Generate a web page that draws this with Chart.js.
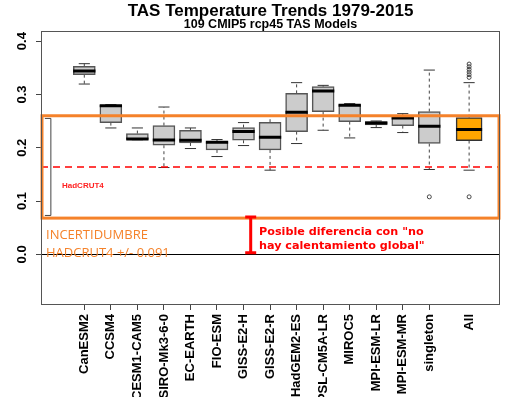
<!DOCTYPE html>
<html>
<head>
<meta charset="utf-8">
<script src="https://cdn.jsdelivr.net/npm/chart.js@4.4.1/dist/chart.umd.min.js"></script>
<style>
  html, body { margin: 0; padding: 0; background: #fff; overflow: hidden; }
</style>
</head>
<body>
<canvas id="chart" width="510" height="397"></canvas>
<script>
// data
const models = ['CanESM2', 'CCSM4', 'CESM1-CAM5', 'CSIRO-Mk3-6-0', 'EC-EARTH', 'FIO-ESM', 'GISS-E2-H',
  'GISS-E2-R', 'HadGEM2-ES', 'IPSL-CM5A-LR', 'MIROC5', 'MPI-ESM-LR', 'MPI-ESM-MR', 'singleton', 'All'];
const positions = [1, 2, 3, 4, 5, 6, 7, 8, 9, 10, 11, 12, 13, 14, 15.5];
const whiskerLow  = [0.3195, 0.2371, 0.2150, 0.1629, 0.1985, 0.1835, 0.2041, 0.1579, 0.2079, 0.2328, 0.2184, 0.2378, 0.2285, 0.1592, 0.1579];
const q1          = [0.3371, 0.2472, 0.2154, 0.2047, 0.2090, 0.1959, 0.2140, 0.1959, 0.2303, 0.2678, 0.2491, 0.2427, 0.2416, 0.2079, 0.2135];
const median      = [0.3438, 0.2790, 0.2165, 0.2146, 0.2140, 0.2103, 0.2303, 0.2197, 0.2665, 0.3064, 0.2796, 0.2464, 0.2558, 0.2403, 0.2341];
const q3          = [0.3526, 0.2800, 0.2266, 0.2416, 0.2328, 0.2116, 0.2378, 0.2478, 0.3020, 0.3146, 0.2809, 0.2491, 0.2600, 0.2678, 0.2566];
const whiskerHigh = [0.3577, 0.2809, 0.2371, 0.2764, 0.2371, 0.2154, 0.2472, 0.2600, 0.3221, 0.3170, 0.2828, 0.2502, 0.2640, 0.3457, 0.3221];
const outliers    = [[], [], [], [], [], [], [], [], [], [], [], [], [], [0.1079],
  [0.1079, 0.332, 0.337, 0.342, 0.347, 0.352, 0.357]];
const yTicks = [0, 0.1, 0.2, 0.3, 0.4];
const hadcrut = 0.164;
const uncertainty = 0.091;

const allIdx = models.length - 1;
const capHalf = 0.21;
const boxHalf = 0.42, allHalf = 0.49;

function segs(fn) {
  const out = [];
  positions.forEach((p, i) => { fn(p, i).forEach(pt => out.push(pt)); out.push({ x: p, y: null }); });
  return out;
}

const medianData = segs((p, i) => {
  const h = i === allIdx ? allHalf : boxHalf;
  return [{ x: p - h, y: median[i] }, { x: p + h, y: median[i] }];
});
const capData = segs((p, i) => [
  { x: p - capHalf, y: whiskerHigh[i] }, { x: p + capHalf, y: whiskerHigh[i] }, { x: p, y: null },
  { x: p - capHalf, y: whiskerLow[i] }, { x: p + capHalf, y: whiskerLow[i] }
]);
const whiskerData = segs((p, i) => [
  { x: p, y: q3[i] }, { x: p, y: whiskerHigh[i] }, { x: p, y: null },
  { x: p, y: q1[i] }, { x: p, y: whiskerLow[i] }
]);
const outlierData = [];
outliers.forEach((list, i) => list.forEach(v => outlierData.push({ x: positions[i], y: v })));

const modelBoxes = positions.slice(0, allIdx).map((p, i) => ({ x: p, y: [q1[i], q3[i]] }));
const allBox = [{ x: positions[allIdx], y: [q1[allIdx], q3[allIdx]] }];

// titles and annotations drawn over the plot
const overlay = {
  id: 'overlay',
  afterDatasetsDraw(chart) {
    const { ctx, chartArea: a } = chart;
    const x = chart.scales.x, y = chart.scales.y;
    ctx.save();

    // zero line
    ctx.strokeStyle = '#000';
    ctx.lineWidth = 1;
    ctx.beginPath();
    ctx.moveTo(a.left, Math.round(y.getPixelForValue(0)) + 0.5);
    ctx.lineTo(a.right, Math.round(y.getPixelForValue(0)) + 0.5);
    ctx.stroke();

    // HadCRUT4 trend
    ctx.strokeStyle = '#ff0000';
    ctx.lineWidth = 1.5;
    ctx.setLineDash([7, 5]);
    ctx.beginPath();
    ctx.moveTo(a.left, y.getPixelForValue(hadcrut));
    ctx.lineTo(a.right, y.getPixelForValue(hadcrut));
    ctx.stroke();
    ctx.setLineDash([]);

    // uncertainty bracket
    const bx = x.getPixelForValue(-0.26);
    const yt = y.getPixelForValue(hadcrut + uncertainty), yb = y.getPixelForValue(hadcrut - uncertainty);
    ctx.strokeStyle = '#444';
    ctx.lineWidth = 1;
    ctx.beginPath();
    ctx.moveTo(bx - 6, yt); ctx.lineTo(bx, yt); ctx.lineTo(bx, yb); ctx.lineTo(bx - 6, yb);
    ctx.stroke();

    // orange uncertainty frame
    ctx.strokeStyle = '#f5822a';
    ctx.lineWidth = 3;
    const ot = y.getPixelForValue(hadcrut + 0.096), ob = y.getPixelForValue(hadcrut - 0.096);
    ctx.strokeRect(a.left + 1, ot, a.right - a.left - 2, ob - ot);

    // red difference bar
    const rx = x.getPixelForValue(7.27);
    const r0 = y.getPixelForValue(0), r1 = y.getPixelForValue(hadcrut - uncertainty);
    ctx.strokeStyle = '#ff0000';
    ctx.lineWidth = 3;
    ctx.beginPath();
    ctx.moveTo(rx, r1 + 1); ctx.lineTo(rx, r0 - 1);
    ctx.moveTo(rx - 5.5, r1 + 1.5); ctx.lineTo(rx + 5.5, r1 + 1.5);
    ctx.moveTo(rx - 5.5, r0 - 1.5); ctx.lineTo(rx + 5.5, r0 - 1.5);
    ctx.stroke();

    // texts
    ctx.textBaseline = 'alphabetic';
    ctx.textAlign = 'left';
    ctx.fillStyle = '#ff1f1f';
    ctx.font = 'bold 8px "Liberation Sans", Arial, sans-serif';
    ctx.fillText('HadCRUT4', 62, 188);

    ctx.fillStyle = '#f5822a';
    ctx.font = '13px "Open Sans", sans-serif';
    ctx.fillText('INCERTIDUMBRE', 46, 239);
    ctx.fillText('HADCRUT4 +/- 0.091', 46, 256.5);

    ctx.fillStyle = '#ff0000';
    ctx.font = 'bold 11.2px "DejaVu Sans", sans-serif';
    ctx.fillText('Posible diferencia con "no', 259, 234.5);
    ctx.fillText('hay calentamiento global"', 259, 248.5);

    // titles
    const cx = (a.left + a.right) / 2;
    ctx.textAlign = 'center';
    ctx.fillStyle = '#000';
    ctx.font = 'bold 17px "Liberation Sans", Arial, sans-serif';
    ctx.fillText('TAS Temperature Trends 1979-2015', cx, 16.3);
    ctx.font = 'bold 12.5px "Liberation Sans", Arial, sans-serif';
    ctx.fillText('109 CMIP5 rcp45 TAS Models', cx, 28);

    // plot frame
    ctx.strokeStyle = '#555';
    ctx.lineWidth = 1;
    ctx.strokeRect(a.left + 0.5, a.top + 0.5, a.right - a.left - 1, a.bottom - a.top - 1);
    ctx.restore();
  }
};

new Chart(document.getElementById('chart'), {
  type: 'bar',
  data: {
    datasets: [
      { type: 'line', data: medianData, borderColor: '#000', borderWidth: 3, pointRadius: 0, spanGaps: false },
      { type: 'line', data: capData, borderColor: '#333', borderWidth: 1, pointRadius: 0, spanGaps: false },
      { type: 'bar', data: modelBoxes, backgroundColor: '#cccccc', borderColor: '#555', borderWidth: 1.5,
        borderSkipped: false, barThickness: 22, grouped: false },
      { type: 'bar', data: allBox, backgroundColor: '#ffa500', borderColor: '#333', borderWidth: 1.5,
        borderSkipped: false, barThickness: 26, grouped: false },
      { type: 'line', data: whiskerData, borderColor: '#444', borderWidth: 1, borderDash: [3, 3],
        pointRadius: 0, spanGaps: false },
      { type: 'line', data: outlierData, showLine: false, pointRadius: 2, pointBorderWidth: 1,
        pointBorderColor: '#444', pointBackgroundColor: 'rgba(0,0,0,0)' }
    ]
  },
  options: {
    responsive: false,
    animation: false,
    devicePixelRatio: 1,
    layout: { padding: { right: 10, left: 0, top: 31, bottom: 0 } },
    plugins: {
      legend: { display: false },
      tooltip: { enabled: false }
    },
    scales: {
      x: {
        type: 'linear',
        offset: false,
        min: -0.632,
        max: 16.664,
        border: { display: false },
        grid: {
          offset: false,
          drawOnChartArea: false,
          tickLength: 5,
          tickColor: c => (c.index === allIdx ? 'rgba(0,0,0,0)' : '#444')
        },
        afterBuildTicks: s => { s.ticks = positions.map(v => ({ value: v })); },
        afterFit: s => { s.height = 92; },
        ticks: {
          autoSkip: false,
          minRotation: 90,
          maxRotation: 90,
          padding: 4,
          color: '#000',
          font: { family: '"Liberation Sans", Arial, sans-serif', size: 13, weight: 'bold' },
          callback: (v, i) => models[i]
        }
      },
      y: {
        type: 'linear',
        min: -0.095,
        max: 0.419,
        border: { display: false },
        grid: { drawOnChartArea: false, tickLength: 5, tickColor: '#444' },
        afterBuildTicks: s => { s.ticks = yTicks.map(v => ({ value: v })); },
        afterFit: s => { s.width = 41; },
        ticks: {
          minRotation: 90,
          maxRotation: 90,
          crossAlign: 'center',
          padding: 4.5,
          color: '#000',
          font: { family: '"Liberation Sans", Arial, sans-serif', size: 13, weight: 'bold' },
          callback: v => v.toFixed(1)
        }
      }
    }
  },
  plugins: [overlay]
});
</script>
</body>
</html>
